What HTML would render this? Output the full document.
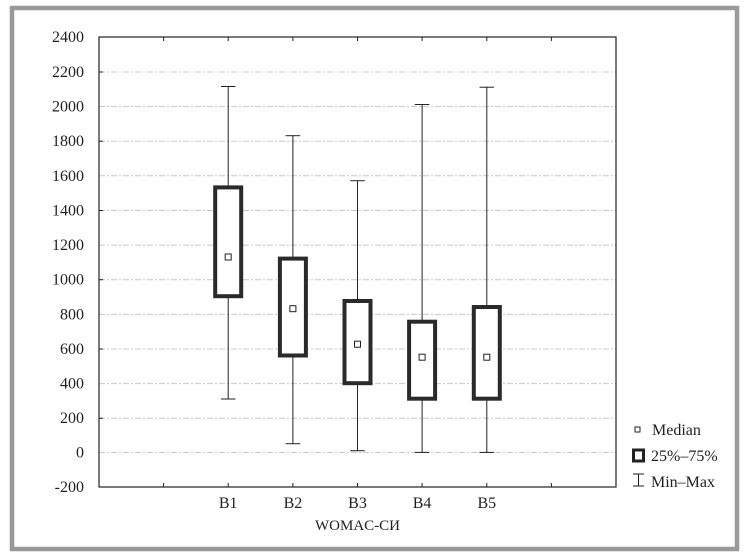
<!DOCTYPE html>
<html><head><meta charset="utf-8"><style>body{margin:0;background:#fff}svg{display:block}</style></head><body>
<svg width="747" height="557" xmlns="http://www.w3.org/2000/svg" font-family="Liberation Serif, serif" fill="#222">
<rect x="12" y="8" width="725" height="541" fill="#fff" stroke="#999" stroke-width="4.5"/>
<g stroke="#c8c8c8" stroke-width="1" stroke-dasharray="6,2,2,2">
<line x1="99" x2="616" y1="72" y2="72"/><line x1="99" x2="616" y1="106.6" y2="106.6"/><line x1="99" x2="616" y1="141.2" y2="141.2"/><line x1="99" x2="616" y1="175.8" y2="175.8"/><line x1="99" x2="616" y1="210.5" y2="210.5"/><line x1="99" x2="616" y1="245.1" y2="245.1"/><line x1="99" x2="616" y1="279.7" y2="279.7"/><line x1="99" x2="616" y1="314.4" y2="314.4"/><line x1="99" x2="616" y1="349" y2="349"/><line x1="99" x2="616" y1="383.6" y2="383.6"/><line x1="99" x2="616" y1="418.2" y2="418.2"/><line x1="99" x2="616" y1="452.4" y2="452.4"/>
</g>
<rect x="99" y="37" width="517" height="450" fill="none" stroke="#222" stroke-width="1.2"/>
<g stroke="#222" stroke-width="1">
<line x1="163.6" x2="163.6" y1="37" y2="41"/><line x1="228.2" x2="228.2" y1="37" y2="41"/><line x1="292.9" x2="292.9" y1="37" y2="41"/><line x1="357.5" x2="357.5" y1="37" y2="41"/><line x1="422.1" x2="422.1" y1="37" y2="41"/><line x1="486.8" x2="486.8" y1="37" y2="41"/><line x1="551.4" x2="551.4" y1="37" y2="41"/>
<line x1="163.6" x2="163.6" y1="487" y2="483"/><line x1="228.2" x2="228.2" y1="487" y2="483"/><line x1="292.9" x2="292.9" y1="487" y2="483"/><line x1="357.5" x2="357.5" y1="487" y2="483"/><line x1="422.1" x2="422.1" y1="487" y2="483"/><line x1="486.8" x2="486.8" y1="487" y2="483"/><line x1="551.4" x2="551.4" y1="487" y2="483"/>
<line x1="99" x2="103" y1="72" y2="72"/><line x1="99" x2="103" y1="141.2" y2="141.2"/><line x1="99" x2="103" y1="210.5" y2="210.5"/><line x1="99" x2="103" y1="279.7" y2="279.7"/><line x1="99" x2="103" y1="349" y2="349"/><line x1="99" x2="103" y1="418.2" y2="418.2"/>
<line x1="228.2" x2="228.2" y1="86.5" y2="399"/><line x1="221" x2="235.5" y1="86.5" y2="86.5"/><line x1="221" x2="235.5" y1="399" y2="399"/>
<line x1="292.9" x2="292.9" y1="135.7" y2="443.7"/><line x1="285.6" x2="300.2" y1="135.7" y2="135.7"/><line x1="285.6" x2="300.2" y1="443.7" y2="443.7"/>
<line x1="357.5" x2="357.5" y1="180.7" y2="450.7"/><line x1="350.2" x2="364.8" y1="180.7" y2="180.7"/><line x1="350.2" x2="364.8" y1="450.7" y2="450.7"/>
<line x1="422.1" x2="422.1" y1="104.5" y2="452.4"/><line x1="414.8" x2="429.4" y1="104.5" y2="104.5"/><line x1="414.8" x2="429.4" y1="452.4" y2="452.4"/>
<line x1="486.8" x2="486.8" y1="87.2" y2="452.4"/><line x1="479.5" x2="494.1" y1="87.2" y2="87.2"/><line x1="479.5" x2="494.1" y1="452.4" y2="452.4"/>
</g>
<g fill="#fff" stroke="#2a2a2a" stroke-width="4">
<rect x="215.2" y="187.4" width="26" height="108.8"/>
<rect x="279.9" y="258.6" width="26" height="96.9"/>
<rect x="344.5" y="301" width="26" height="82.2"/>
<rect x="409.1" y="321.7" width="26" height="77"/>
<rect x="473.8" y="307" width="26" height="91.7"/>
</g>
<g fill="#fff" stroke="#222" stroke-width="1">
<rect x="225.2" y="254" width="6" height="6"/>
<rect x="289.9" y="305.7" width="6" height="6"/>
<rect x="354.5" y="341.2" width="6" height="6"/>
<rect x="419.1" y="354.2" width="6" height="6"/>
<rect x="483.8" y="354.2" width="6" height="6"/>
</g>
<g font-size="16" text-anchor="end">
<text x="84" y="42">2400</text><text x="84" y="77">2200</text><text x="84" y="111.6">2000</text><text x="84" y="146.2">1800</text><text x="84" y="180.8">1600</text><text x="84" y="215.5">1400</text><text x="84" y="250.1">1200</text><text x="84" y="284.7">1000</text><text x="84" y="319.4">800</text><text x="84" y="354">600</text><text x="84" y="388.6">400</text><text x="84" y="423.2">200</text><text x="84" y="457.4">0</text><text x="84" y="492">-200</text>
</g>
<g font-size="16" text-anchor="middle">
<text x="228.2" y="508">B1</text><text x="292.9" y="508">B2</text><text x="357.5" y="508">B3</text><text x="422.1" y="508">B4</text><text x="486.8" y="508">B5</text>
<text x="357.5" y="530" font-size="15">WOMAC-СИ</text>
</g>
<rect x="635" y="427" width="5" height="5" fill="#fff" stroke="#222" stroke-width="1"/>
<rect x="633.5" y="450" width="10" height="11" fill="#fff" stroke="#222" stroke-width="3"/>
<g stroke="#222" stroke-width="1"><line x1="638.5" x2="638.5" y1="474" y2="486"/><line x1="633" x2="644" y1="474" y2="474"/><line x1="633" x2="644" y1="486" y2="486"/></g>
<g font-size="16"><text x="652" y="435">Median</text><text x="651" y="461">25%–75%</text><text x="651" y="487">Min–Max</text></g>
</svg>
</body></html>
